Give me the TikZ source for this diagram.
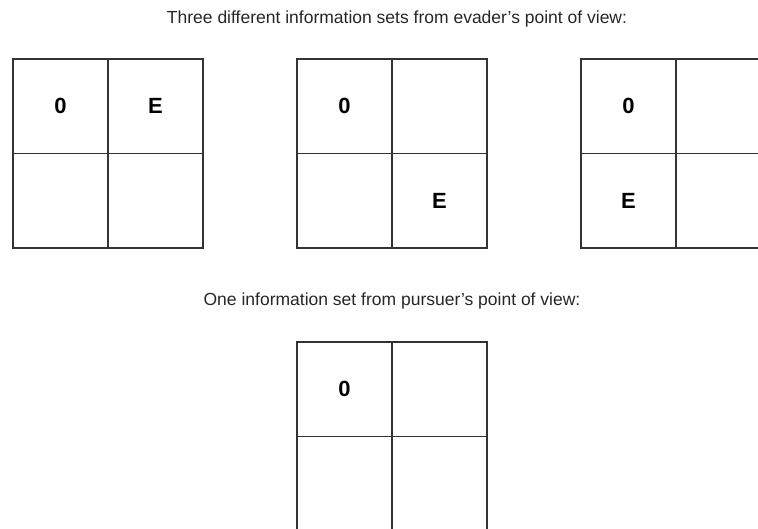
\documentclass[tikz,border=0pt]{standalone}
\usepackage{fontspec}
\setmainfont{Liberation Sans}
\begin{document}
\begin{tikzpicture}[x=1pt,y=-1pt,
  cell/.style={draw=black!80,line width=1.8pt,minimum width=95pt,minimum height=94.5pt,
    inner sep=0pt,outer sep=0pt,anchor=north west,font=\fontsize{22}{24}\selectfont\bfseries},
  caption/.style={font=\fontsize{17.5}{20}\selectfont,text=black!85}]
\useasboundingbox (0,0) rectangle (758,529);
\clip (0,0) rectangle (758,529);
% captions
\node[caption] (evader) at (397,19) {Three different information sets from evader's point of view:};
\node[caption] (pursuer) at (392,301) {One information set from pursuer's point of view:};
% the four 2x2 boards
\foreach \g/\x/\y/\la/\lb/\lc/\ld in {a/13/59/0/E/{}/{}, b/297/59/0/{}/{}/E,
    c/581/59/0/{}/E/{}, d/297/342/0/{}/{}/{}} {
  \node[cell] (\g11) at (\x,\y) {\la};
  \node[cell] (\g12) at (\x+95,\y) {\lb};
  \node[cell] (\g21) at (\x,\y+94.5) {\lc};
  \node[cell] (\g22) at (\x+95,\y+94.5) {\ld};
}
\end{tikzpicture}
\end{document}
